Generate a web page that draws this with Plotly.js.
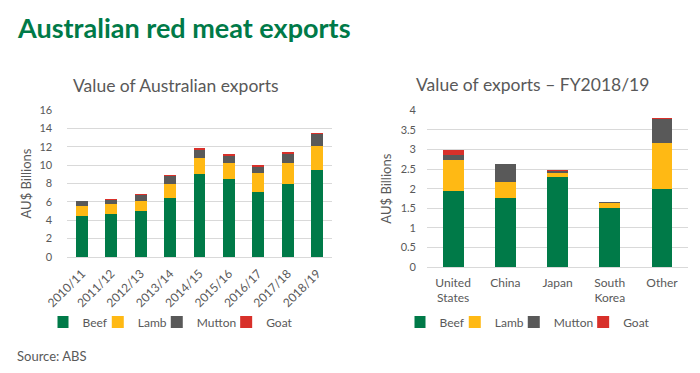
<!DOCTYPE html>
<html>
<head>
<meta charset="utf-8">
<script src="https://cdn.plot.ly/plotly-3.0.1.min.js"></script>
<style>html,body{margin:0;padding:0;background:#fff}#chart{width:700px;height:373px}</style>
</head>
<body>
<div id="chart"></div>
<script>
// Left chart: value of Australian exports by year (AU$ billions)
const years = ["2010/11","2011/12","2012/13","2013/14","2014/15","2015/16","2016/17","2017/18","2018/19"];
const beefByYear   = [4.5, 4.7, 5.05, 6.4, 9.0, 8.5, 7.1, 7.95, 9.5];
const lambByYear   = [1.05, 1.1, 1.1, 1.55, 1.8, 1.75, 2.0, 2.3, 2.6];
const muttonByYear = [0.5, 0.45, 0.6, 0.85, 0.8, 0.8, 0.7, 1.0, 1.3];
const goatByYear   = [0.1, 0.1, 0.1, 0.15, 0.25, 0.15, 0.2, 0.2, 0.15];

// Right chart: value of exports FY2018/19 by market (AU$ billions)
const markets = ["United<br>States","China","Japan","South<br>Korea","Other"];
const beefByMarket   = [1.93, 1.75, 2.3, 1.5, 1.98];
const lambByMarket   = [0.8, 0.43, 0.1, 0.13, 1.18];
const muttonByMarket = [0.13, 0.44, 0.05, 0.02, 0.62];
const goatByMarket   = [0.12, 0.02, 0.02, 0.02, 0.03];

const seriesNames = ["Beef","Lamb","Mutton","Goat"];
const colors = ["#007A48","#FFB914","#595959","#D8302A"];
const FONT = "Lato, 'Open Sans', sans-serif";
const GREY = "#595959";

const leftData = [beefByYear, lambByYear, muttonByYear, goatByYear];
const rightData = [beefByMarket, lambByMarket, muttonByMarket, goatByMarket];

const traces = [];
leftData.forEach((vals, i) => traces.push({
  type: "bar", x: years, y: vals, name: seriesNames[i],
  marker: {color: colors[i]}, xaxis: "x", yaxis: "y", legend: "legend"
}));
rightData.forEach((vals, i) => traces.push({
  type: "bar", x: markets, y: vals, name: seriesNames[i],
  marker: {color: colors[i]}, xaxis: "x2", yaxis: "y2", legend: "legend2"
}));

const axisCommon = {
  tickfont: {family: FONT, size: 11, color: GREY},
  fixedrange: true
};

const legendCommon = {
  orientation: "h", xanchor: "center", yanchor: "middle",
  font: {family: FONT, size: 12, color: GREY},
  itemwidth: 30, tracegroupgap: 0, bgcolor: "rgba(0,0,0,0)",
  traceorder: "normal", indentation: -15
};

const layout = {
  width: 700, height: 373,
  margin: {l: 0, r: 0, t: 0, b: 0},
  paper_bgcolor: "#fff", plot_bgcolor: "#fff",
  barmode: "stack", bargap: 0.6,
  font: {family: FONT, color: GREY},
  showlegend: true,
  xaxis: Object.assign({}, axisCommon, {
    domain: [0.096, 0.474], anchor: "y", tickangle: -45,
    tickfont: {family: FONT, size: 12, color: GREY},
    showline: true, linecolor: "#D9D9D9", linewidth: 1, ticks: "",
    showgrid: false, ticklabelstandoff: 4
  }),
  yaxis: Object.assign({}, axisCommon, {
    domain: [0.311, 0.705], anchor: "x", range: [0, 16], dtick: 2,
    gridcolor: "#D9D9D9", zeroline: false, ticks: "", ticklabelstandoff: 14,
    title: {text: "AU$ Billions", font: {family: FONT, size: 13, color: GREY}, standoff: 4}
  }),
  xaxis2: Object.assign({}, axisCommon, {
    domain: [0.61, 0.983], anchor: "y2",
    tickfont: {family: FONT, size: 12, color: GREY},
    showline: true, linecolor: "#D9D9D9", linewidth: 1, ticks: "",
    showgrid: false, ticklabelstandoff: 4
  }),
  yaxis2: Object.assign({}, axisCommon, {
    domain: [0.2834, 0.705], anchor: "x2", range: [0, 4], dtick: 0.5,
    gridcolor: "#D9D9D9", zeroline: false, ticks: "", ticklabelstandoff: 10,
    title: {text: "AU$ Billions", font: {family: FONT, size: 13, color: GREY}, standoff: 6}
  }),
  legend: Object.assign({}, legendCommon, {x: 178/700, y: 1 - 322/373}),
  legend2: Object.assign({}, legendCommon, {x: 535/700, y: 1 - 322/373}),
  annotations: [
    {text: "<b>Australian red meat exports</b>", xref: "paper", yref: "paper",
     x: 15/700, y: 1 - 27/373, xanchor: "left", yanchor: "middle", showarrow: false,
     font: {family: FONT, size: 27, color: "#007A48"}},
    {text: "Value of Australian exports", xref: "paper", yref: "paper",
     x: 176/700, y: 1 - 85/373, xanchor: "center", yanchor: "middle", showarrow: false,
     font: {family: FONT, size: 17.5, color: GREY}},
    {text: "Value of exports \u2013 FY2018/19", xref: "paper", yref: "paper",
     x: 532/700, y: 1 - 84/373, xanchor: "center", yanchor: "middle", showarrow: false,
     font: {family: FONT, size: 17.5, color: GREY}},
    {text: "Source: ABS", xref: "paper", yref: "paper",
     x: 15/700, y: 1 - 356/373, xanchor: "left", yanchor: "middle", showarrow: false,
     font: {family: FONT, size: 13, color: GREY}}
  ]
};

Plotly.newPlot("chart", traces, layout, {displayModeBar: false, staticPlot: true});
</script>
</body>
</html>
